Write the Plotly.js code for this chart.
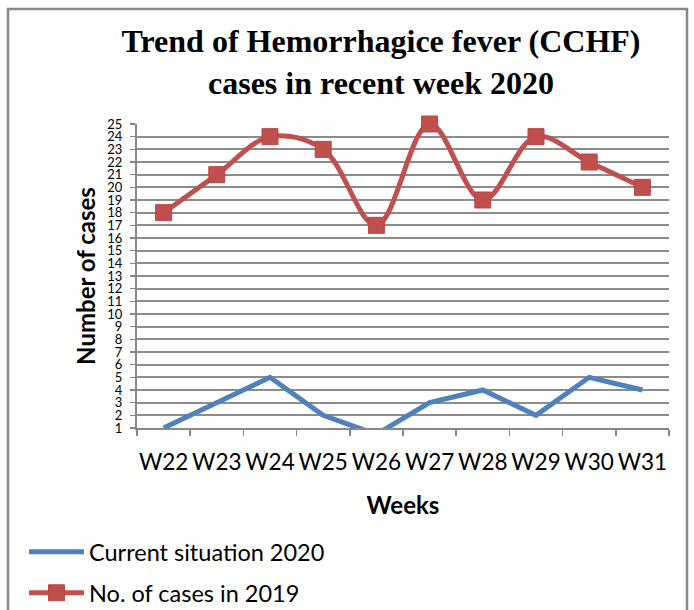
<!DOCTYPE html>
<html>
<head>
<meta charset="utf-8">
<script src="https://cdn.plot.ly/plotly-3.0.1.min.js"></script>
<style>html,body{margin:0;padding:0;background:#fff;}#chart{width:694px;height:610px;}</style>
</head>
<body>
<div id="chart"></div>
<script>
const weeks = ["W22","W23","W24","W25","W26","W27","W28","W29","W30","W31"];
const cases2020 = [1, 3, 5, 2, 0.5, 3, 4, 2, 5, 4];
const cases2019 = [18, 21, 24, 23, 17, 25, 19, 24, 22, 20];
const yTicks = [1,2,3,4,5,6,7,8,9,10,11,12,13,14,15,16,17,18,19,20,21,22,23,24,25];

const sans = "Lato, 'Open Sans', sans-serif";
const L = 137, R = 25, T = 124, B = 182;
const W = 694 - L - R, H = 610 - T - B;
const px = v => (v - L) / W;
const py = v => (610 - B - v) / H;

const traces = [
  {
    x: weeks, y: cases2020, type: "scatter", mode: "lines",
    name: "Current situation 2020",
    line: {color: "#4F81BD", width: 5},
    legend: "legend"
  },
  {
    x: weeks, y: cases2019, type: "scatter", mode: "lines+markers",
    name: "No. of cases in 2019",
    line: {color: "#C0504D", width: 5, shape: "spline", smoothing: 1},
    marker: {symbol: "square", size: 16, color: "#C0504D", line: {color: "#B84744", width: 1}},
    cliponaxis: false,
    legend: "legend2"
  }
];

const layout = {
  width: 694, height: 610,
  margin: {l: L, r: R, t: T, b: B, autoexpand: false},
  paper_bgcolor: "#fff", plot_bgcolor: "#fff",
  font: {family: sans, color: "#000"},
  title: {
    text: "Trend of Hemorrhagice fever (CCHF)<br>cases in recent week 2020",
    font: {family: "'Liberation Serif', 'Times New Roman', serif", size: 32, color: "#000", weight: "bold"},
    xref: "paper", x: px(381), xanchor: "center",
    yref: "container", y: 1 - 52/610, yanchor: "top"
  },
  xaxis: {
    type: "category", tickvals: weeks, ticktext: weeks, range: [-0.5, 9.5],
    tickson: "boundaries", ticks: "outside", ticklen: 6, tickwidth: 1.5, tickcolor: "#888",
    showline: true, linecolor: "#888", linewidth: 2,
    showgrid: false, zeroline: false, tickangle: 0, automargin: false,
    tickfont: {family: sans, size: 22.5, color: "#000"},
    ticklabelstandoff: 13,
    title: {text: "Weeks", font: {family: sans, size: 24, color: "#000", weight: "bold"}, standoff: 23},
    fixedrange: true
  },
  yaxis: {
    range: [1, 25], tickmode: "array", tickvals: yTicks, ticktext: yTicks.map(String),
    ticks: "outside", ticklen: 5, tickwidth: 1.5, tickcolor: "#888",
    showline: true, linecolor: "#888", linewidth: 2, automargin: false,
    showgrid: true, gridcolor: "#8c8c8c", gridwidth: 1.8, zeroline: false,
    tickfont: {family: sans, size: 13, color: "#000"},
    ticklabelstandoff: 5,
    title: {text: "Number of cases", font: {family: sans, size: 24, color: "#000", weight: "bold"}, standoff: 5},
    fixedrange: true
  },
  showlegend: true,
  legend: {
    x: px(24), xanchor: "left", y: py(552), yanchor: "middle",
    font: {family: sans, size: 23.5, color: "#000"},
    itemwidth: 55, bgcolor: "rgba(0,0,0,0)"
  },
  legend2: {
    x: px(24), xanchor: "left", y: py(593), yanchor: "middle",
    font: {family: sans, size: 23.5, color: "#000"},
    itemwidth: 55, bgcolor: "rgba(0,0,0,0)"
  },
  shapes: [
    {type: "rect", xref: "paper", yref: "paper",
     x0: px(8), x1: px(687), y0: py(640), y1: py(9),
     line: {color: "#888", width: 2.5}, fillcolor: "rgba(0,0,0,0)", layer: "below"}
  ]
};

Plotly.newPlot("chart", traces, layout, {displayModeBar: false, staticPlot: true});
</script>
</body>
</html>
